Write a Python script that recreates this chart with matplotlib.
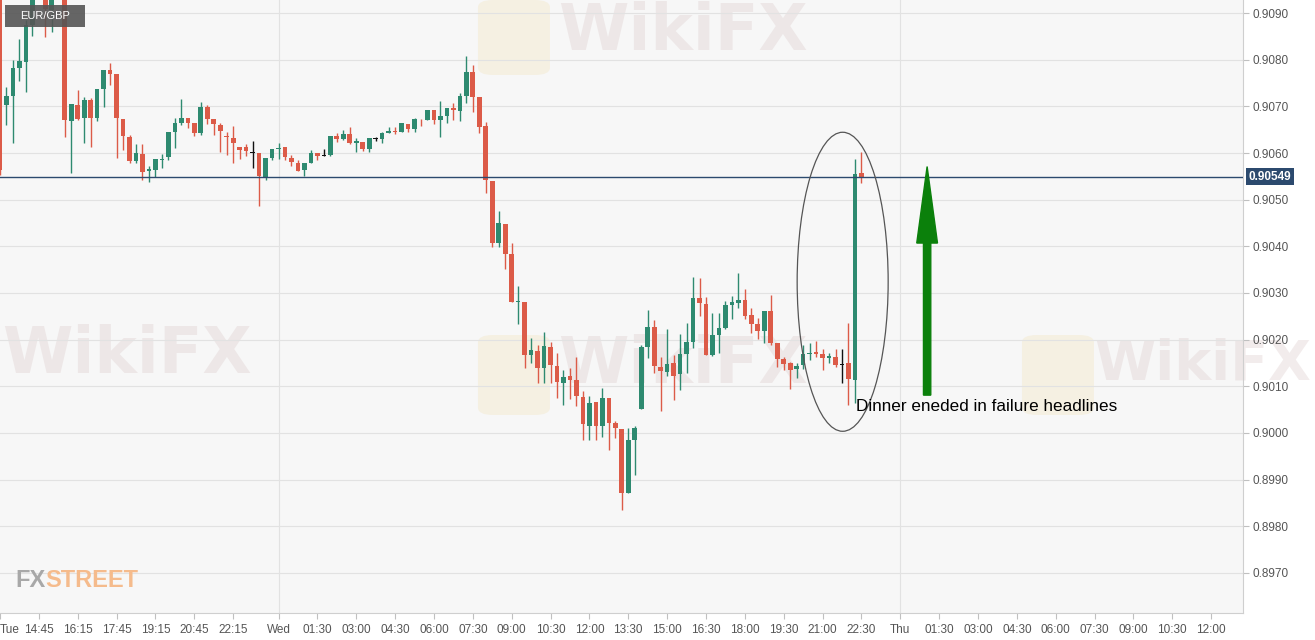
import numpy as np
import pandas as pd
import matplotlib
matplotlib.use("Agg")
import matplotlib.pyplot as plt
import matplotlib.transforms as mtransforms
from matplotlib.patches import Ellipse, FancyArrow, Rectangle, FancyBboxPatch

plt.rcParams['font.family'] = ['Liberation Sans', 'DejaVu Sans']

# EUR/GBP 15-minute candles, Tue 13:15 -> Wed 22:30
start = pd.Timestamp('2020-12-08 13:15')

opens = [0.90949, 0.90703, 0.90722, 0.90782, 0.90795, 0.90874, 0.90939, 0.90948, 0.90906, 0.90940,
         0.90950, 0.90669, 0.90703, 0.90675, 0.90714, 0.90675, 0.90737, 0.90778, 0.90769, 0.90673,
         0.90634, 0.90583, 0.90598, 0.90561, 0.90564, 0.90585, 0.90591, 0.90645, 0.90664, 0.90675,
         0.90664, 0.90643, 0.90699, 0.90673, 0.90660, 0.90636, 0.90632, 0.90613, 0.90613, 0.90600,
         0.90600, 0.90546, 0.90589, 0.90609, 0.90613, 0.90589, 0.90579, 0.90564, 0.90579, 0.90600,
         0.90594, 0.90596, 0.90636, 0.90630, 0.90641, 0.90621, 0.90624, 0.90609, 0.90630, 0.90630,
         0.90643, 0.90647, 0.90645, 0.90662, 0.90651, 0.90673, 0.90671, 0.90692, 0.90671, 0.90679,
         0.90696, 0.90690, 0.90722, 0.90774, 0.90720, 0.90658, 0.90540, 0.90407, 0.90448, 0.90384,
         0.90281, 0.90281, 0.90167, 0.90176, 0.90139, 0.90184, 0.90144, 0.90107, 0.90122, 0.90114,
         0.90077, 0.90015, 0.90066, 0.90015, 0.90075, 0.90021, 0.90009, 0.89871, 0.89985, 0.90051,
         0.90184, 0.90227, 0.90141, 0.90131, 0.90150, 0.90126, 0.90169, 0.90195, 0.90289, 0.90276,
         0.90167, 0.90210, 0.90225, 0.90274, 0.90279, 0.90285, 0.90253, 0.90234, 0.90219, 0.90261,
         0.90193, 0.90159, 0.90150, 0.90137, 0.90146, 0.90170, 0.90174, 0.90169, 0.90161, 0.90163,
         0.90146, 0.90150, 0.90114, 0.90557]
highs = [0.90960, 0.90741, 0.90799, 0.90844, 0.90885, 0.90945, 0.90960, 0.90955, 0.90945, 0.90958,
         0.90955, 0.90705, 0.90735, 0.90720, 0.90718, 0.90737, 0.90778, 0.90793, 0.90769, 0.90673,
         0.90639, 0.90619, 0.90619, 0.90572, 0.90587, 0.90598, 0.90645, 0.90675, 0.90716, 0.90675,
         0.90664, 0.90709, 0.90703, 0.90673, 0.90664, 0.90645, 0.90658, 0.90613, 0.90619, 0.90626,
         0.90600, 0.90589, 0.90609, 0.90621, 0.90613, 0.90596, 0.90585, 0.90579, 0.90606, 0.90600,
         0.90609, 0.90636, 0.90643, 0.90649, 0.90656, 0.90632, 0.90624, 0.90632, 0.90634, 0.90645,
         0.90656, 0.90656, 0.90664, 0.90662, 0.90675, 0.90673, 0.90692, 0.90692, 0.90711, 0.90696,
         0.90707, 0.90729, 0.90808, 0.90789, 0.90720, 0.90666, 0.90540, 0.90476, 0.90448, 0.90407,
         0.90315, 0.90281, 0.90204, 0.90189, 0.90216, 0.90195, 0.90171, 0.90135, 0.90139, 0.90163,
         0.90090, 0.90079, 0.90066, 0.90096, 0.90075, 0.90026, 0.90009, 0.90011, 0.90015, 0.90189,
         0.90264, 0.90242, 0.90163, 0.90223, 0.90167, 0.90212, 0.90236, 0.90334, 0.90332, 0.90291,
         0.90257, 0.90257, 0.90283, 0.90294, 0.90343, 0.90309, 0.90268, 0.90246, 0.90261, 0.90296,
         0.90193, 0.90163, 0.90152, 0.90150, 0.90189, 0.90193, 0.90197, 0.90180, 0.90171, 0.90180,
         0.90180, 0.90236, 0.90587, 0.90602]
lows = [0.90553, 0.90660, 0.90621, 0.90754, 0.90731, 0.90851, 0.90932, 0.90849, 0.90859, 0.90932,
        0.90634, 0.90557, 0.90671, 0.90621, 0.90613, 0.90669, 0.90699, 0.90746, 0.90589, 0.90606,
        0.90579, 0.90579, 0.90542, 0.90538, 0.90549, 0.90568, 0.90585, 0.90611, 0.90660, 0.90654,
        0.90636, 0.90639, 0.90662, 0.90639, 0.90602, 0.90596, 0.90579, 0.90587, 0.90594, 0.90568,
        0.90486, 0.90542, 0.90585, 0.90587, 0.90585, 0.90572, 0.90561, 0.90551, 0.90579, 0.90585,
        0.90594, 0.90594, 0.90624, 0.90628, 0.90619, 0.90602, 0.90604, 0.90602, 0.90626, 0.90621,
        0.90643, 0.90641, 0.90645, 0.90645, 0.90645, 0.90658, 0.90671, 0.90662, 0.90634, 0.90664,
        0.90671, 0.90669, 0.90707, 0.90688, 0.90643, 0.90514, 0.90399, 0.90399, 0.90351, 0.90281,
        0.90234, 0.90139, 0.90150, 0.90107, 0.90107, 0.90107, 0.90075, 0.90060, 0.90073, 0.90058,
        0.89985, 0.89985, 0.89985, 0.89991, 0.89964, 0.89989, 0.89835, 0.89871, 0.89910, 0.90051,
        0.90161, 0.90129, 0.90047, 0.90122, 0.90071, 0.90092, 0.90129, 0.90182, 0.90251, 0.90167,
        0.90165, 0.90171, 0.90223, 0.90244, 0.90268, 0.90244, 0.90214, 0.90201, 0.90193, 0.90189,
        0.90141, 0.90135, 0.90094, 0.90118, 0.90137, 0.90156, 0.90163, 0.90135, 0.90150, 0.90141,
        0.90107, 0.90060, 0.90064, 0.90536]
closes = [0.90564, 0.90722, 0.90782, 0.90797, 0.90874, 0.90939, 0.90952, 0.90909, 0.90940, 0.90950,
          0.90671, 0.90705, 0.90673, 0.90714, 0.90675, 0.90737, 0.90778, 0.90769, 0.90675, 0.90636,
          0.90583, 0.90600, 0.90559, 0.90566, 0.90587, 0.90587, 0.90645, 0.90664, 0.90675, 0.90664,
          0.90643, 0.90699, 0.90673, 0.90662, 0.90647, 0.90635, 0.90621, 0.90606, 0.90604, 0.90600,
          0.90551, 0.90589, 0.90609, 0.90611, 0.90591, 0.90581, 0.90561, 0.90579, 0.90600, 0.90594,
          0.90594, 0.90636, 0.90630, 0.90641, 0.90621, 0.90626, 0.90609, 0.90632, 0.90630, 0.90643,
          0.90647, 0.90645, 0.90664, 0.90651, 0.90673, 0.90672, 0.90692, 0.90671, 0.90679, 0.90696,
          0.90692, 0.90722, 0.90774, 0.90720, 0.90656, 0.90542, 0.90407, 0.90450, 0.90384, 0.90281,
          0.90282, 0.90167, 0.90178, 0.90139, 0.90186, 0.90146, 0.90109, 0.90120, 0.90114, 0.90079,
          0.90019, 0.90064, 0.90015, 0.90075, 0.90021, 0.90011, 0.89871, 0.89985, 0.90011, 0.90184,
          0.90227, 0.90144, 0.90133, 0.90148, 0.90122, 0.90169, 0.90195, 0.90289, 0.90279, 0.90167,
          0.90210, 0.90225, 0.90274, 0.90281, 0.90285, 0.90251, 0.90234, 0.90219, 0.90261, 0.90193,
          0.90159, 0.90148, 0.90135, 0.90144, 0.90169, 0.90172, 0.90169, 0.90161, 0.90165, 0.90146,
          0.90146, 0.90116, 0.90555, 0.90549]

last_price = 0.90549

tick_times = ['2020-12-08 13:15', '2020-12-08 14:45', '2020-12-08 16:15', '2020-12-08 17:45',
              '2020-12-08 19:15', '2020-12-08 20:45', '2020-12-08 22:15', '2020-12-09 00:00',
              '2020-12-09 01:30', '2020-12-09 03:00', '2020-12-09 04:30', '2020-12-09 06:00',
              '2020-12-09 07:30', '2020-12-09 09:00', '2020-12-09 10:30', '2020-12-09 12:00',
              '2020-12-09 13:30', '2020-12-09 15:00', '2020-12-09 16:30', '2020-12-09 18:00',
              '2020-12-09 19:30', '2020-12-09 21:00', '2020-12-09 22:30', '2020-12-10 00:00',
              '2020-12-10 01:30', '2020-12-10 03:00', '2020-12-10 04:30', '2020-12-10 06:00',
              '2020-12-10 07:30', '2020-12-10 09:00', '2020-12-10 10:30', '2020-12-10 12:00']
tick_labels = ['Tue', '14:45', '16:15', '17:45', '19:15', '20:45', '22:15', 'Wed',
               '01:30', '03:00', '04:30', '06:00', '07:30', '09:00', '10:30', '12:00',
               '13:30', '15:00', '16:30', '18:00', '19:30', '21:00', '22:30', 'Thu',
               '01:30', '03:00', '04:30', '06:00', '07:30', '09:00', '10:30', '12:00']
annotation = 'Dinner eneded in failure headlines'

GREEN = '#2e8a70'
RED = '#dc5b48'


def to_idx(ts):
    # position in units of 15-minute bars from the first candle
    return (pd.Timestamp(ts) - start) / pd.Timedelta(minutes=15)


o = np.array(opens)
h = np.array(highs)
l = np.array(lows)
c = np.array(closes)
x = np.arange(len(o))
colors = np.where(c > o, GREEN, np.where(c < o, RED, '#111111'))

fig = plt.figure(figsize=(13.15, 6.4), dpi=100)
ax = fig.add_axes([0.0, 0.0422, 0.9452, 0.9578])
ax.set_facecolor('#f7f7f7')

# watermarks (behind the candles)
marks = [(683, 32, 'center', 46), (2, 355, 'left', 46), (683, 365, 'center', 46),
         (1311, 365, 'right', 40)]
for (cx, cy, ha, fs) in marks:
    ax.text(cx / 1243, 1 - cy / 613, 'WikiFX', transform=ax.transAxes, fontsize=fs,
            fontweight='bold', family='DejaVu Sans', color='#dccaca', alpha=0.35,
            ha=ha, va='center', zorder=0.5, clip_on=False)
for (bx, by, bw, bh) in [(478, 0, 72, 75), (478, 335, 72, 80), (1022, 335, 72, 80)]:
    ax.add_patch(FancyBboxPatch((bx / 1243, 1 - (by + bh) / 613), bw / 1243, bh / 613,
                                boxstyle='round,pad=0.0,rounding_size=0.012',
                                transform=ax.transAxes, fc='#f3e6c4', ec='none',
                                alpha=0.4, zorder=0.4, clip_on=False))

# grid
yticks = np.round(np.arange(0.8970, 0.90905, 0.001), 4)
for yt in yticks:
    ax.axhline(yt, color='#e2e2e2', lw=0.8, zorder=1)
ax.axvline(to_idx('2020-12-09 00:00'), color='#e2e2e2', lw=0.8, zorder=1)
ax.axvline(to_idx('2020-12-10 00:00'), color='#e2e2e2', lw=0.8, zorder=1)

# candles
ax.vlines(x, l, h, colors=colors, lw=1.0, zorder=3)
body = np.maximum(np.abs(c - o), 0.000018)
ax.bar(x, body, bottom=np.minimum(o, c), width=0.72, color=colors, zorder=4)

# last price line
ax.axhline(last_price, color='#2c4a6e', lw=1.0, zorder=5)
trans = mtransforms.blended_transform_factory(ax.transAxes, ax.transData)
ax.text(1.0045, last_price, '%.5f' % last_price, transform=trans, color='white',
        fontsize=8.5, fontweight='bold', ha='left', va='center', clip_on=False,
        bbox=dict(boxstyle='square,pad=0.2', fc='#2c4a6e', ec='none'))

# annotations
ax.add_patch(Ellipse((130.1, 0.90324), width=14.05, height=0.00641, fill=False,
                     ec='#555555', lw=0.9, zorder=6))
ax.add_patch(FancyArrow(143.14, 0.90081, 0, 0.90571 - 0.90081, width=1.13, head_width=3.2,
                        head_length=0.00164, length_includes_head=True,
                        fc='#0b800b', ec='#0b800b', zorder=6))
ax.text(132.2, 0.90056, annotation, fontsize=12.3, color='#000000',
        ha='left', va='center', zorder=7)

# symbol label
ax.add_patch(Rectangle((5 / 1243, 1 - 27 / 613), 80 / 1243, 22 / 613, transform=ax.transAxes,
                       fc='#555555', ec='none', alpha=0.9, zorder=8))
ax.text(45 / 1243, 1 - 16 / 613, 'EUR/GBP', transform=ax.transAxes, color='white',
        fontsize=8, ha='center', va='center', zorder=9)

# FXStreet logo
ax.text(15 / 1243, 1 - 581 / 613, 'FX', transform=ax.transAxes, color='#a8a8a8',
        fontsize=17, fontweight='bold', ha='left', va='center', zorder=2)
ax.text(45 / 1243, 1 - 581 / 613, 'STREET', transform=ax.transAxes, color='#f5bb8c',
        fontsize=17, fontweight='bold', ha='left', va='center', zorder=2)

# axes
ax.set_xlim(0, 191.9)
ax.set_ylim(0.89614, 0.90928)
ax.set_xticks([to_idx(t) for t in tick_times])
ax.set_xticklabels(tick_labels)
ax.get_xticklabels()[0].set_horizontalalignment('left')
ax.yaxis.tick_right()
ax.set_yticks(yticks)
ax.set_yticklabels(['%.4f' % v for v in yticks])
ax.tick_params(axis='both', colors='#c0c0c0', labelcolor='#555555', labelsize=8.5, length=4,
               width=0.8)
ax.tick_params(axis='x', pad=4)
ax.tick_params(axis='y', pad=3)
for side in ['top', 'left']:
    ax.spines[side].set_visible(False)
for side in ['bottom', 'right']:
    ax.spines[side].set_color('#cfcfcf')
    ax.spines[side].set_linewidth(0.8)

fig.savefig('out.png', dpi=100, facecolor='white')
